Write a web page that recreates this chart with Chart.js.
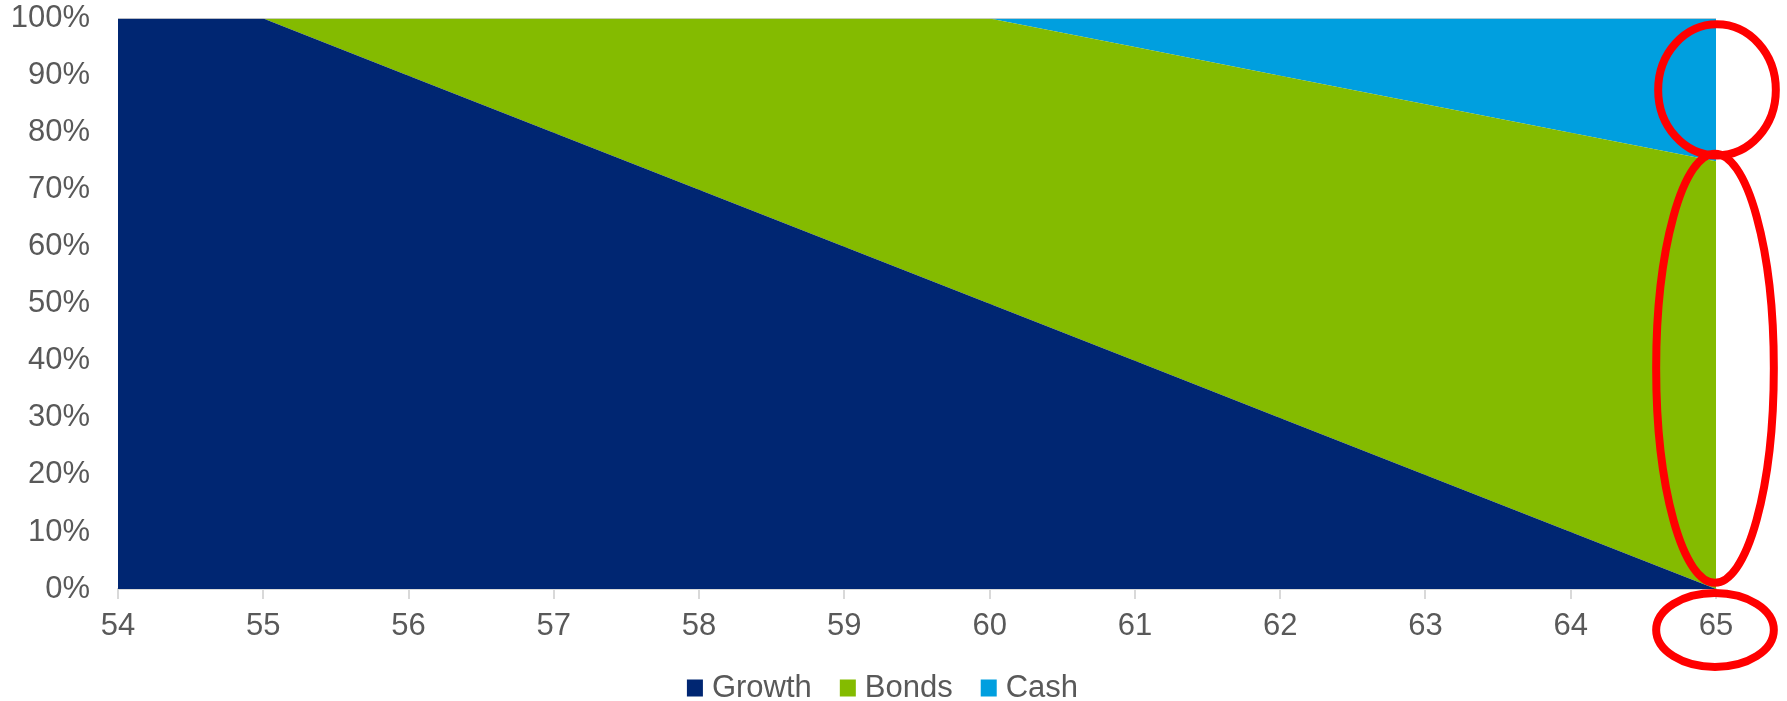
<!DOCTYPE html>
<html>
<head>
<meta charset="utf-8">
<script src="https://cdn.jsdelivr.net/npm/chart.js@4.4.1/dist/chart.umd.min.js"></script>
<style>
  html, body { margin: 0; padding: 0; background: #ffffff; }
  #wrap { width: 1787px; height: 701px; position: relative; }
</style>
</head>
<body>
<div id="wrap"><canvas id="c" width="1787" height="701"></canvas></div>
<script>
// ---- data ----
const ages = ['54', '55', '56', '57', '58', '59', '60', '61', '62', '63', '64', '65'];
const growth = [100, 100, 90, 80, 70, 60, 50, 40, 30, 20, 10, 0];
const bonds  = [0, 0, 10, 20, 30, 40, 50, 55, 60, 65, 70, 75];
const cash   = [0, 0, 0, 0, 0, 0, 0, 5, 10, 15, 20, 25];
const yTicks = [0, 10, 20, 30, 40, 50, 60, 70, 80, 90, 100];
const seriesNames = ['Growth', 'Bonds', 'Cash'];
const seriesColors = ['#002672', '#84bb00', '#009fdf'];

const FONT = '"Liberation Sans", Arial, Helvetica, sans-serif';
const TEXT = '#595959';

// Custom legend (bottom, compact spacing like the reference)
const legendPlugin = {
  id: 'customLegend',
  afterDraw(chart) {
    const ctx = chart.ctx;
    ctx.save();
    ctx.font = '31px ' + FONT;
    const box = 16, gap = 9, itemGap = 28;
    const items = chart.data.datasets.map(d => ({ label: d.label, color: d.backgroundColor, w: ctx.measureText(d.label).width }));
    let total = 0;
    items.forEach((it, i) => { total += box + gap + it.w + (i < items.length - 1 ? itemGap : 0); });
    let x = chart.width / 2 - 11 - total / 2;
    const cy = 688;
    items.forEach(it => {
      ctx.fillStyle = it.color;
      ctx.fillRect(x, cy - 8.5, box, 17);
      ctx.fillStyle = TEXT;
      ctx.textBaseline = 'alphabetic';
      ctx.textAlign = 'left';
      ctx.fillText(it.label, x + box + gap, 697);
      x += box + gap + it.w + itemGap;
    });
    ctx.restore();
  }
};

// Red highlight ellipses anchored to the last category
const ellipsePlugin = {
  id: 'highlights',
  afterDraw(chart) {
    const ctx = chart.ctx;
    const xs = chart.scales.x, ys = chart.scales.y;
    const last = ages.length - 1;
    const cx = xs.getPixelForValue(last) - 1;
    const rx = xs.getPixelForValue(last) - xs.getPixelForValue(last - 0.405);
    const topCash = growth[last] + bonds[last];
    ctx.save();
    ctx.strokeStyle = '#ff0000';
    ctx.lineWidth = 8;
    // around the cash segment
    const c1 = (topCash + 100) / 2;
    ctx.beginPath();
    ctx.ellipse(cx + 2, ys.getPixelForValue(c1), rx, Math.abs(ys.getPixelForValue(c1) - ys.getPixelForValue(c1 + 11.5)), 0, 0, Math.PI * 2);
    ctx.stroke();
    // around the bonds segment
    const c2 = 38.7;
    ctx.beginPath();
    ctx.ellipse(cx, ys.getPixelForValue(c2), rx, Math.abs(ys.getPixelForValue(c2) - ys.getPixelForValue(c2 + 37.6)), 0, 0, Math.PI * 2);
    ctx.stroke();
    // around the final age label
    ctx.beginPath();
    ctx.ellipse(cx, chart.chartArea.bottom + 41, rx, 37, 0, 0, Math.PI * 2);
    ctx.stroke();
    ctx.restore();
  }
};

const datasets = [growth, bonds, cash].map((vals, i) => ({
  label: seriesNames[i],
  data: vals,
  backgroundColor: seriesColors[i],
  borderColor: seriesColors[i],
  borderWidth: 0,
  pointRadius: 0,
  pointHoverRadius: 0,
  tension: 0,
  fill: i === 0 ? 'origin' : '-1'
}));

new Chart(document.getElementById('c'), {
  type: 'line',
  data: { labels: ages, datasets },
  options: {
    responsive: false,
    animation: false,
    devicePixelRatio: 1,
    layout: { padding: { left: 0, right: 71, top: 1, bottom: 52 } },
    plugins: {
      legend: { display: false },
      tooltip: { enabled: false },
      filler: { propagate: false }
    },
    scales: {
      x: {
        offset: false,
        grid: { display: true, drawOnChartArea: false, drawTicks: true, tickLength: 10, color: '#d9d9d9', lineWidth: 2 },
        border: { display: true, color: '#d9d9d9', width: 2 },
        ticks: { font: { family: FONT, size: 31 }, color: TEXT, padding: 9, maxRotation: 0, autoSkip: false },
        afterFit(scale) { scale.height = 60; }
      },
      y: {
        stacked: true,
        min: 0, max: 100,
        afterBuildTicks(scale) { scale.ticks = yTicks.map(v => ({ value: v })); },
        grid: { display: true, drawTicks: true, tickLength: 28, tickColor: 'rgba(0,0,0,0)', color: '#d0d0d0', lineWidth: 2 },
        border: { display: false },
        ticks: { font: { family: FONT, size: 31 }, color: TEXT, padding: 0, callback: v => v + '%' },
        afterFit(scale) { scale.width = 118; }
      }
    }
  },
  plugins: [legendPlugin, ellipsePlugin]
});
</script>
</body>
</html>
